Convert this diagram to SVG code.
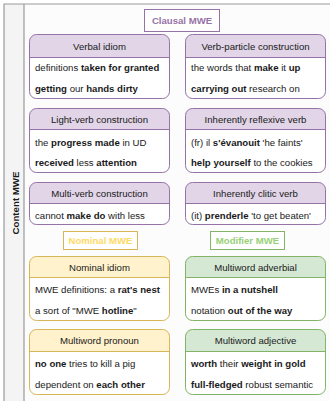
<svg xmlns="http://www.w3.org/2000/svg" width="330" height="401" viewBox="0 0 330 401">
<style>
text{font-family:"Liberation Sans",Arial,sans-serif;font-size:9.6px;fill:#1a1a1a}
.h{text-anchor:middle}
.b{font-weight:bold}
.pu .hd{fill:#e1d5e7}.pu .ol{stroke:#9673a6}
.ye .hd{fill:#fff2cc}.ye .ol{stroke:#d6b656}
.gr .hd{fill:#d5e8d4}.gr .ol{stroke:#82b366}
.bd{fill:#ffffff}
.ol{fill:none;stroke-width:1}
.lbl{font-weight:bold;text-anchor:middle;font-size:9.6px}
</style>
<g id="frame">
<rect x="4" y="4" width="326" height="397" fill="#fcfcfc"/>
<rect x="4" y="4" width="20" height="397" fill="#f4f4f4"/>
<path d="M4,401 V4 H330 M24,4 V401" fill="none" stroke="#9a9a9a" stroke-width="1.2"/>
<text class="b" transform="translate(18.5,203) rotate(-90)" text-anchor="middle" style="font-size:9.7px">Content MWE</text>
</g>
<g id="label-clausal">
<rect x="144.5" y="9.5" width="75" height="22" fill="#ffffff" stroke="#9673a6"/>
<text class="lbl" x="182" y="24" style="fill:#9673a6">Clausal MWE</text>
</g>
<g id="label-nominal">
<rect x="63.5" y="231.5" width="74" height="18" fill="#ffffff" stroke="#d6b656"/>
<text class="lbl" x="100.5" y="244" style="fill:#ffd966">Nominal MWE</text>
</g>
<g id="label-modifier">
<rect x="210.5" y="231.5" width="74" height="18" fill="#ffffff" stroke="#82b366"/>
<text class="lbl" x="247.5" y="244" style="fill:#97d077">Modifier MWE</text>
</g>

<g id="verbal-idiom" class="pu">
<rect class="hd" x="29.5" y="34.5" width="140" height="64" rx="7"/>
<path class="bd" d="M29.5,57.5 H169.5 V91.5 A7,7 0 0 1 162.5,98.5 H36.5 A7,7 0 0 1 29.5,91.5 Z"/>
<rect class="ol" x="29.5" y="34.5" width="140" height="64" rx="7"/>
<line class="ol" x1="29.5" y1="57.5" x2="169.5" y2="57.5"/>
<text class="h" x="99.5" y="49.5">Verbal idiom</text>
<text x="35" y="70.5">definitions <tspan class="b">taken for granted</tspan></text>
<text x="35" y="91.5"><tspan class="b">getting</tspan> our <tspan class="b">hands dirty</tspan></text>
</g>
<g id="verb-particle" class="pu">
<rect class="hd" x="185.5" y="34.5" width="140" height="64" rx="7"/>
<path class="bd" d="M185.5,57.5 H325.5 V91.5 A7,7 0 0 1 318.5,98.5 H192.5 A7,7 0 0 1 185.5,91.5 Z"/>
<rect class="ol" x="185.5" y="34.5" width="140" height="64" rx="7"/>
<line class="ol" x1="185.5" y1="57.5" x2="325.5" y2="57.5"/>
<text class="h" x="255.5" y="49.5">Verb-particle construction</text>
<text x="191" y="70.5">the words that <tspan class="b">make</tspan> it <tspan class="b">up</tspan></text>
<text x="191" y="91.5"><tspan class="b">carrying out</tspan> research on</text>
</g>

<g id="light-verb" class="pu">
<rect class="hd" x="29.5" y="108.5" width="140" height="64" rx="7"/>
<path class="bd" d="M29.5,129.5 H169.5 V165.5 A7,7 0 0 1 162.5,172.5 H36.5 A7,7 0 0 1 29.5,165.5 Z"/>
<rect class="ol" x="29.5" y="108.5" width="140" height="64" rx="7"/>
<line class="ol" x1="29.5" y1="129.5" x2="169.5" y2="129.5"/>
<text class="h" x="99.5" y="122.5">Light-verb construction</text>
<text x="35" y="145.5">the <tspan class="b">progress made</tspan> in UD</text>
<text x="35" y="165.5"><tspan class="b">received</tspan> less <tspan class="b">attention</tspan></text>
</g>
<g id="reflexive" class="pu">
<rect class="hd" x="185.5" y="108.5" width="140" height="64" rx="7"/>
<path class="bd" d="M185.5,129.5 H325.5 V165.5 A7,7 0 0 1 318.5,172.5 H192.5 A7,7 0 0 1 185.5,165.5 Z"/>
<rect class="ol" x="185.5" y="108.5" width="140" height="64" rx="7"/>
<line class="ol" x1="185.5" y1="129.5" x2="325.5" y2="129.5"/>
<text class="h" x="255.5" y="122.5">Inherently reflexive verb</text>
<text x="191" y="145.5">(fr) il <tspan class="b">s'évanouit</tspan> 'he faints'</text>
<text x="191" y="165.5"><tspan class="b">help yourself</tspan> to the cookies</text>
</g>

<g id="multi-verb" class="pu">
<rect class="hd" x="29.5" y="182.5" width="140" height="42" rx="7"/>
<path class="bd" d="M29.5,203.5 H169.5 V217.5 A7,7 0 0 1 162.5,224.5 H36.5 A7,7 0 0 1 29.5,217.5 Z"/>
<rect class="ol" x="29.5" y="182.5" width="140" height="42" rx="7"/>
<line class="ol" x1="29.5" y1="203.5" x2="169.5" y2="203.5"/>
<text class="h" x="99.5" y="196.5">Multi-verb construction</text>
<text x="35" y="218.5">cannot <tspan class="b">make do</tspan> with less</text>
</g>
<g id="clitic" class="pu">
<rect class="hd" x="185.5" y="182.5" width="140" height="42" rx="7"/>
<path class="bd" d="M185.5,203.5 H325.5 V217.5 A7,7 0 0 1 318.5,224.5 H192.5 A7,7 0 0 1 185.5,217.5 Z"/>
<rect class="ol" x="185.5" y="182.5" width="140" height="42" rx="7"/>
<line class="ol" x1="185.5" y1="203.5" x2="325.5" y2="203.5"/>
<text class="h" x="255.5" y="196.5">Inherently clitic verb</text>
<text x="191" y="218.5">(it) <tspan class="b">prenderle</tspan> 'to get beaten'</text>
</g>

<g id="nominal-idiom" class="ye">
<rect class="hd" x="29.5" y="256.5" width="140" height="64" rx="7"/>
<path class="bd" d="M29.5,277.5 H169.5 V313.5 A7,7 0 0 1 162.5,320.5 H36.5 A7,7 0 0 1 29.5,313.5 Z"/>
<rect class="ol" x="29.5" y="256.5" width="140" height="64" rx="7"/>
<line class="ol" x1="29.5" y1="277.5" x2="169.5" y2="277.5"/>
<text class="h" x="99.5" y="270.5">Nominal idiom</text>
<text x="35" y="292.5">MWE definitions: a <tspan class="b">rat's nest</tspan></text>
<text x="35" y="313.5">a sort of "MWE <tspan class="b">hotline</tspan>"</text>
</g>
<g id="adverbial" class="gr">
<rect class="hd" x="185.5" y="256.5" width="140" height="64" rx="7"/>
<path class="bd" d="M185.5,277.5 H325.5 V313.5 A7,7 0 0 1 318.5,320.5 H192.5 A7,7 0 0 1 185.5,313.5 Z"/>
<rect class="ol" x="185.5" y="256.5" width="140" height="64" rx="7"/>
<line class="ol" x1="185.5" y1="277.5" x2="325.5" y2="277.5"/>
<text class="h" x="255.5" y="270.5">Multiword adverbial</text>
<text x="191" y="292.5">MWEs <tspan class="b">in a nutshell</tspan></text>
<text x="191" y="313.5">notation <tspan class="b">out of the way</tspan></text>
</g>

<g id="pronoun" class="ye">
<rect class="hd" x="29.5" y="329.5" width="140" height="65" rx="7"/>
<path class="bd" d="M29.5,351.5 H169.5 V387.5 A7,7 0 0 1 162.5,394.5 H36.5 A7,7 0 0 1 29.5,387.5 Z"/>
<rect class="ol" x="29.5" y="329.5" width="140" height="65" rx="7"/>
<line class="ol" x1="29.5" y1="351.5" x2="169.5" y2="351.5"/>
<text class="h" x="99.5" y="344">Multiword pronoun</text>
<text x="35" y="366.5"><tspan class="b">no one</tspan> tries to kill a pig</text>
<text x="35" y="387.5">dependent on <tspan class="b">each other</tspan></text>
</g>
<g id="adjective" class="gr">
<rect class="hd" x="185.5" y="329.5" width="140" height="65" rx="7"/>
<path class="bd" d="M185.5,351.5 H325.5 V387.5 A7,7 0 0 1 318.5,394.5 H192.5 A7,7 0 0 1 185.5,387.5 Z"/>
<rect class="ol" x="185.5" y="329.5" width="140" height="65" rx="7"/>
<line class="ol" x1="185.5" y1="351.5" x2="325.5" y2="351.5"/>
<text class="h" x="255.5" y="344">Multiword adjective</text>
<text x="191" y="366.5"><tspan class="b">worth</tspan> their <tspan class="b">weight in gold</tspan></text>
<text x="191" y="387.5"><tspan class="b">full-fledged</tspan> robust semantic</text>
</g>
<g id="connectors"/>
</svg>
